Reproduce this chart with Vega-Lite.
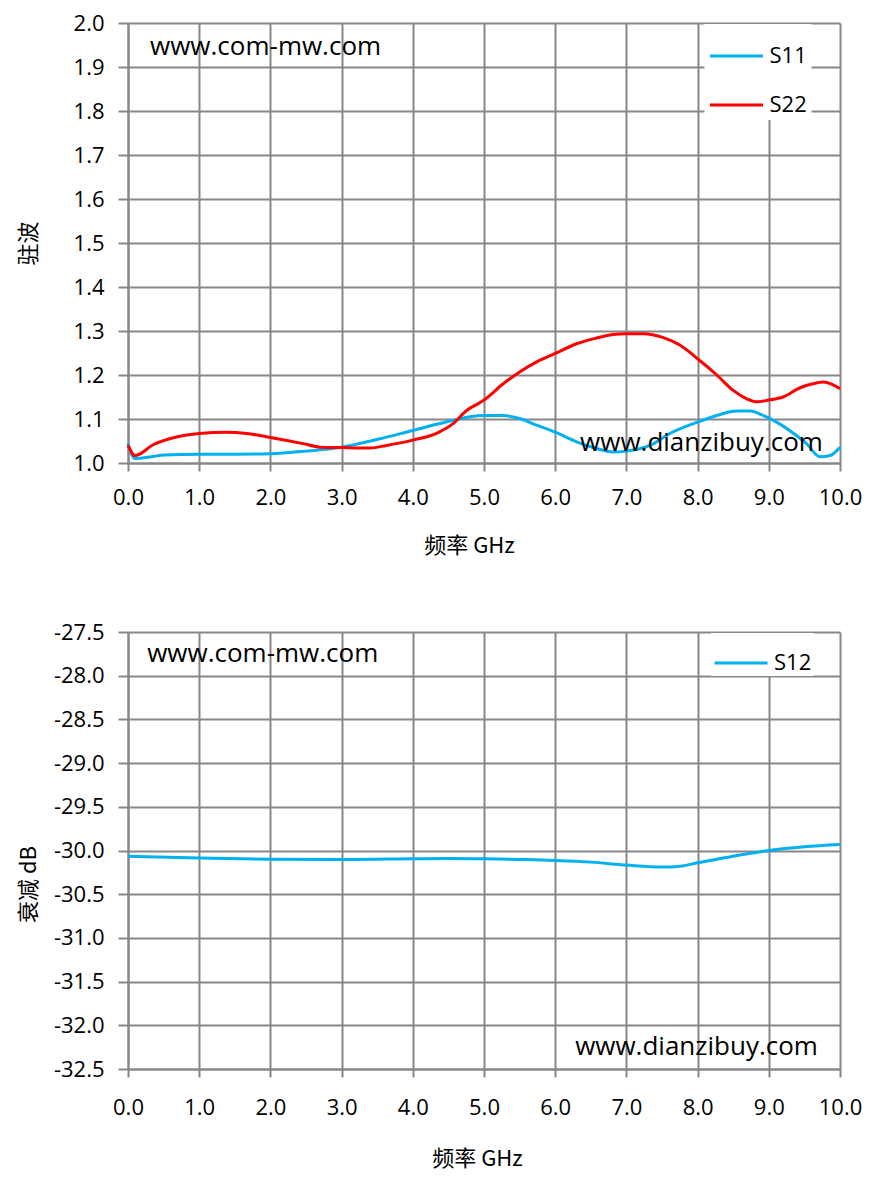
{
  "$schema": "https://vega.github.io/schema/vega-lite/v6.json",
  "padding": {"left": 17, "top": 12, "right": 0, "bottom": 8},
  "background": "white",
  "config": {
    "locale": {"number": {"decimal": ".", "thousands": ",", "grouping": [3], "currency": ["", ""], "minus": "-"}},
    "view": {"stroke": null},
    "axis": {
      "gridColor": "#878787", "gridWidth": 2, "gridOpacity": 1,
      "domainColor": "#878787", "domainWidth": 2,
      "tickColor": "#878787", "tickWidth": 2, "labelFlush": false,
      "labelFont": "Open Sans", "labelFontSize": 22, "labelColor": "#000000",
      "titleFont": "Noto Sans CJK SC", "titleFontSize": 22, "titleFontWeight": "normal", "titleColor": "#000000"
    },
    "legend": {
      "orient": "none", "fillColor": "white", "padding": 4, "symbolType": "stroke",
      "symbolSize": 2809, "symbolStrokeWidth": 3, "labelFont": "Open Sans", "labelFontSize": 22,
      "labelColor": "#000000", "labelOffset": 5, "rowPadding": 10, "title": null
    }
  },
  "datasets": {
    "top": [
      {"series": "S11", "f": 0, "v": 1.044},
      {"series": "S11", "f": 0.1, "v": 1.010},
      {"series": "S11", "f": 0.36, "v": 1.015},
      {"series": "S11", "f": 0.5, "v": 1.018},
      {"series": "S11", "f": 1.0, "v": 1.020},
      {"series": "S11", "f": 1.5, "v": 1.020},
      {"series": "S11", "f": 2.0, "v": 1.021},
      {"series": "S11", "f": 2.5, "v": 1.027},
      {"series": "S11", "f": 3.0, "v": 1.036},
      {"series": "S11", "f": 3.54, "v": 1.055},
      {"series": "S11", "f": 4.0, "v": 1.074},
      {"series": "S11", "f": 4.57, "v": 1.097},
      {"series": "S11", "f": 4.8, "v": 1.105},
      {"series": "S11", "f": 5.0, "v": 1.108},
      {"series": "S11", "f": 5.27, "v": 1.108},
      {"series": "S11", "f": 5.5, "v": 1.101},
      {"series": "S11", "f": 5.74, "v": 1.086},
      {"series": "S11", "f": 6.0, "v": 1.070},
      {"series": "S11", "f": 6.3, "v": 1.048},
      {"series": "S11", "f": 6.58, "v": 1.033},
      {"series": "S11", "f": 6.81, "v": 1.025},
      {"series": "S11", "f": 7.0, "v": 1.027},
      {"series": "S11", "f": 7.33, "v": 1.040},
      {"series": "S11", "f": 7.61, "v": 1.067},
      {"series": "S11", "f": 8.0, "v": 1.093},
      {"series": "S11", "f": 8.27, "v": 1.108},
      {"series": "S11", "f": 8.55, "v": 1.118},
      {"series": "S11", "f": 8.74, "v": 1.118},
      {"series": "S11", "f": 8.92, "v": 1.108},
      {"series": "S11", "f": 9.11, "v": 1.093},
      {"series": "S11", "f": 9.35, "v": 1.067},
      {"series": "S11", "f": 9.53, "v": 1.044},
      {"series": "S11", "f": 9.72, "v": 1.014},
      {"series": "S11", "f": 9.86, "v": 1.017},
      {"series": "S11", "f": 10.0, "v": 1.036},
      {"series": "S22", "f": 0, "v": 1.040},
      {"series": "S22", "f": 0.1, "v": 1.017},
      {"series": "S22", "f": 0.36, "v": 1.042},
      {"series": "S22", "f": 0.68, "v": 1.059},
      {"series": "S22", "f": 1.0, "v": 1.067},
      {"series": "S22", "f": 1.39, "v": 1.070},
      {"series": "S22", "f": 1.67, "v": 1.067},
      {"series": "S22", "f": 2.0, "v": 1.058},
      {"series": "S22", "f": 2.46, "v": 1.044},
      {"series": "S22", "f": 2.7, "v": 1.036},
      {"series": "S22", "f": 3.0, "v": 1.035},
      {"series": "S22", "f": 3.4, "v": 1.034},
      {"series": "S22", "f": 3.63, "v": 1.040},
      {"series": "S22", "f": 4.0, "v": 1.052},
      {"series": "S22", "f": 4.34, "v": 1.068},
      {"series": "S22", "f": 4.57, "v": 1.090},
      {"series": "S22", "f": 4.76, "v": 1.120},
      {"series": "S22", "f": 4.92, "v": 1.135},
      {"series": "S22", "f": 5.0, "v": 1.143},
      {"series": "S22", "f": 5.27, "v": 1.180},
      {"series": "S22", "f": 5.5, "v": 1.207},
      {"series": "S22", "f": 5.74, "v": 1.230},
      {"series": "S22", "f": 6.0, "v": 1.249},
      {"series": "S22", "f": 6.3, "v": 1.271},
      {"series": "S22", "f": 6.58, "v": 1.284},
      {"series": "S22", "f": 6.81, "v": 1.292},
      {"series": "S22", "f": 7.0, "v": 1.294},
      {"series": "S22", "f": 7.24, "v": 1.294},
      {"series": "S22", "f": 7.52, "v": 1.285},
      {"series": "S22", "f": 7.75, "v": 1.268},
      {"series": "S22", "f": 8.0, "v": 1.237},
      {"series": "S22", "f": 8.27, "v": 1.200},
      {"series": "S22", "f": 8.5, "v": 1.165},
      {"series": "S22", "f": 8.69, "v": 1.146},
      {"series": "S22", "f": 8.83, "v": 1.139},
      {"series": "S22", "f": 9.0, "v": 1.143},
      {"series": "S22", "f": 9.2, "v": 1.150},
      {"series": "S22", "f": 9.44, "v": 1.171},
      {"series": "S22", "f": 9.62, "v": 1.180},
      {"series": "S22", "f": 9.77, "v": 1.184},
      {"series": "S22", "f": 9.91, "v": 1.177},
      {"series": "S22", "f": 10.0, "v": 1.169}
    ],
    "bottom": [
      {"series": "S12", "f": 0, "v": -30.065},
      {"series": "S12", "f": 1, "v": -30.087},
      {"series": "S12", "f": 2, "v": -30.099},
      {"series": "S12", "f": 3, "v": -30.103},
      {"series": "S12", "f": 4, "v": -30.095},
      {"series": "S12", "f": 4.5, "v": -30.091},
      {"series": "S12", "f": 5, "v": -30.095},
      {"series": "S12", "f": 5.5, "v": -30.103},
      {"series": "S12", "f": 6, "v": -30.114},
      {"series": "S12", "f": 6.5, "v": -30.133},
      {"series": "S12", "f": 7, "v": -30.167},
      {"series": "S12", "f": 7.5, "v": -30.19},
      {"series": "S12", "f": 7.75, "v": -30.18},
      {"series": "S12", "f": 8, "v": -30.141},
      {"series": "S12", "f": 8.5, "v": -30.065},
      {"series": "S12", "f": 9, "v": -30.0},
      {"series": "S12", "f": 9.5, "v": -29.958},
      {"series": "S12", "f": 10, "v": -29.932}
    ]
  },
  "spacing": 65,
  "resolve": {"scale": {"color": "independent", "x": "independent", "y": "independent"}, "legend": {"color": "independent"}},
  "vconcat": [
    {
      "width": 712, "height": 440,
      "layer": [
        {
          "data": {"name": "top"},
          "mark": {"type": "line", "strokeWidth": 3, "interpolate": "monotone"},
          "encoding": {
            "x": {"field": "f", "type": "quantitative", "scale": {"domain": [0, 10], "nice": false},
              "axis": {"values": [0, 1, 2, 3, 4, 5, 6, 7, 8, 9, 10], "format": ".1f", "tickSize": 8, "labelPadding": 16,
                "title": "频率 GHz", "titleX": 341, "titleY": 82, "titleBaseline": "middle", "titleAlign": "center"}},
            "y": {"field": "v", "type": "quantitative", "scale": {"domain": [1, 2], "nice": false, "zero": false},
              "axis": {"values": [1, 1.1, 1.2, 1.3, 1.4, 1.5, 1.6, 1.7, 1.8, 1.9, 2], "format": ".1f", "tickSize": 10, "labelPadding": 14,
                "title": "驻波", "titleX": -100, "titleY": 220, "titleBaseline": "middle", "titleAlign": "center", "titleAngle": -90}},
            "color": {"field": "series", "type": "nominal", "scale": {"domain": ["S11", "S22"], "range": ["#00B0F0", "#FF0000"]},
              "legend": {"legendX": 576.5, "legendY": 1}}
          }
        },
        {
          "data": {"values": [{}]},
          "mark": {"type": "text", "align": "left", "baseline": "middle", "font": "Open Sans", "fontSize": 26, "color": "#000000"},
          "encoding": {"x": {"datum": 0.31, "type": "quantitative"}, "y": {"datum": 1.945, "type": "quantitative"}, "text": {"value": "www.com-mw.com"}}
        },
        {
          "data": {"values": [{}]},
          "mark": {"type": "text", "align": "left", "baseline": "middle", "font": "Open Sans", "fontSize": 26, "color": "#000000"},
          "encoding": {"x": {"datum": 6.35, "type": "quantitative"}, "y": {"datum": 1.045, "type": "quantitative"}, "text": {"value": "www.dianzibuy.com"}}
        }
      ]
    },
    {
      "width": 712, "height": 437,
      "layer": [
        {
          "data": {"name": "bottom"},
          "mark": {"type": "line", "strokeWidth": 3, "interpolate": "monotone"},
          "encoding": {
            "x": {"field": "f", "type": "quantitative", "scale": {"domain": [0, 10], "nice": false},
              "axis": {"values": [0, 1, 2, 3, 4, 5, 6, 7, 8, 9, 10], "format": ".1f", "tickSize": 8, "labelPadding": 20,
                "title": "频率 GHz", "titleX": 349, "titleY": 89, "titleBaseline": "middle", "titleAlign": "center"}},
            "y": {"field": "v", "type": "quantitative", "scale": {"domain": [-32.5, -27.5], "nice": false, "zero": false},
              "axis": {"values": [-32.5, -32, -31.5, -31, -30.5, -30, -29.5, -29, -28.5, -28, -27.5], "format": ".1f", "tickSize": 10, "labelPadding": 14,
                "title": "衰减 dB", "titleX": -100, "titleY": 252, "titleBaseline": "middle", "titleAlign": "center", "titleAngle": -90}},
            "color": {"field": "series", "type": "nominal", "scale": {"domain": ["S12"], "range": ["#00B0F0"]},
              "legend": {"legendX": 583, "legendY": 1, "padding": 2}}
          }
        },
        {
          "data": {"values": [{}]},
          "mark": {"type": "text", "align": "left", "baseline": "middle", "font": "Open Sans", "fontSize": 26, "color": "#000000"},
          "encoding": {"x": {"datum": 0.27, "type": "quantitative"}, "y": {"datum": -27.752, "type": "quantitative"}, "text": {"value": "www.com-mw.com"}}
        },
        {
          "data": {"values": [{}]},
          "mark": {"type": "text", "align": "left", "baseline": "middle", "font": "Open Sans", "fontSize": 26, "color": "#000000"},
          "encoding": {"x": {"datum": 6.28, "type": "quantitative"}, "y": {"datum": -32.248, "type": "quantitative"}, "text": {"value": "www.dianzibuy.com"}}
        }
      ]
    }
  ]
}
